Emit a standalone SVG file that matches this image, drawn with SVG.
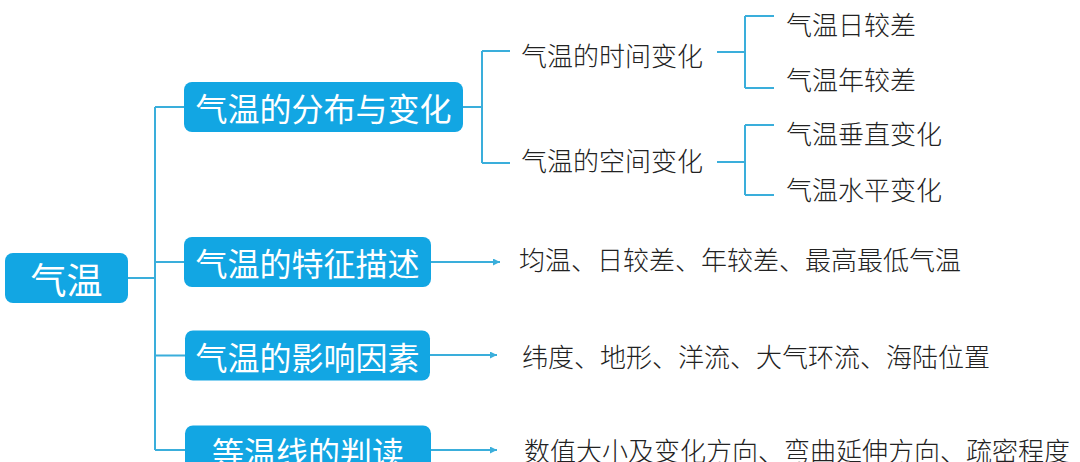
<svg xmlns="http://www.w3.org/2000/svg" width="1080" height="462" viewBox="0 0 1080 462">
<style>
.box{fill:#12A6E3}
.bt{font-family:"Noto Sans CJK SC","Noto Sans",sans-serif;font-size:32px;fill:#ffffff;text-anchor:middle;dominant-baseline:central}
.rt{font-size:36px}
.lt{font-family:"Noto Sans CJK SC","Noto Sans",sans-serif;font-size:26px;font-weight:300;fill:#222222;dominant-baseline:central}
.ln{stroke:#3AAEDB;stroke-width:2;fill:none}
</style>
<defs>
<marker id="arr" viewBox="0 0 10 10" refX="10" refY="5" markerWidth="4" markerHeight="3.5" markerUnits="strokeWidth" orient="auto">
<path d="M0,0 L10,5 L0,10 z" fill="#3AAEDB"/>
</marker>
</defs>
<rect width="1080" height="462" fill="#ffffff"/>
<g id="connectors">
<path class="ln" d="M128,278 H155"/>
<path class="ln" d="M155,107 V450"/>
<path class="ln" d="M155,107 H184 M155,262 H184 M155,355.5 H185 M155,450 H185"/>
<path class="ln" d="M463,107 H482 M482,51 V163 M482,51 H510 M482,163 H510"/>
<path class="ln" d="M717,52 H745 M745,16 V88 M745,16 H774 M745,88 H774"/>
<path class="ln" d="M717,162 H745 M745,125 V195 M745,125 H774 M745,195 H774"/>
<path class="ln" d="M431,262 H500" marker-end="url(#arr)"/>
<path class="ln" d="M430,355 H497" marker-end="url(#arr)"/>
<path class="ln" d="M431,450 H497" marker-end="url(#arr)"/>
</g>
<g id="root"><rect class="box" x="5" y="253" width="123" height="50" rx="8"/><text class="bt rt" x="66.5" y="278">气温</text></g>
<g id="n1"><rect class="box" x="184" y="82" width="279" height="50" rx="8"/><text class="bt" x="323.5" y="107">气温的分布与变化</text></g>
<g id="n2"><rect class="box" x="184" y="237" width="247" height="50" rx="8"/><text class="bt" x="307.5" y="262">气温的特征描述</text></g>
<g id="n3"><rect class="box" x="185" y="330.5" width="245" height="50" rx="8"/><text class="bt" x="307.5" y="355.5">气温的影响因素</text></g>
<g id="n4"><rect class="box" x="185" y="425.5" width="246" height="50" rx="8"/><text class="bt" x="308" y="450.5">等温线的判读</text></g>
<g id="n11"><text class="lt" x="521" y="54">气温的时间变化</text></g>
<g id="n12"><text class="lt" x="521" y="159">气温的空间变化</text></g>
<g id="n111"><text class="lt" x="786" y="23">气温日较差</text></g>
<g id="n112"><text class="lt" x="786" y="78">气温年较差</text></g>
<g id="n121"><text class="lt" x="786" y="132">气温垂直变化</text></g>
<g id="n122"><text class="lt" x="786" y="188">气温水平变化</text></g>
<g id="n21"><text class="lt" x="519" y="258">均温、日较差、年较差、最高最低气温</text></g>
<g id="n31"><text class="lt" x="522" y="355">纬度、地形、洋流、大气环流、海陆位置</text></g>
<g id="n41"><text class="lt" x="524" y="449">数值大小及变化方向、弯曲延伸方向、疏密程度</text></g>
</svg>
